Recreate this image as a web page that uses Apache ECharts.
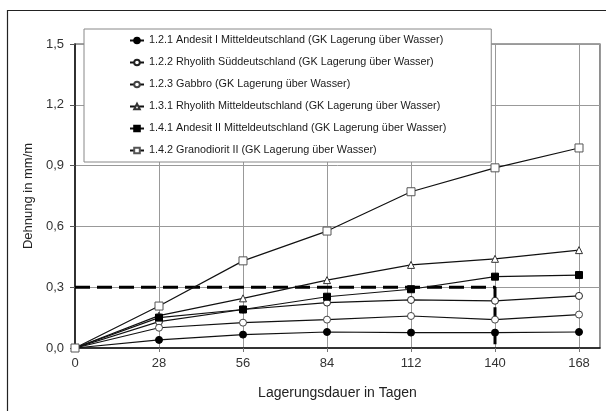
<!DOCTYPE html>
<html>
<head>
<meta charset="utf-8">
<script src="https://cdn.jsdelivr.net/npm/echarts@6/dist/echarts.min.js"></script>
<style>
  html, body { margin: 0; padding: 0; background: #fff; }
  #main { width: 606px; height: 411px; }
</style>
</head>
<body>
<div id="main"></div>
<script>
// Lagerungsdauer in Tagen
const days = [0, 28, 56, 84, 112, 140, 168];

// Dehnung in mm/m
const andesitI = [0, 0.04, 0.066, 0.079, 0.076, 0.076, 0.079];
const rhyolithSued = [0, 0.13, 0.19, 0.224, 0.237, 0.233, 0.257];
const gabbro = [0, 0.10, 0.125, 0.14, 0.158, 0.14, 0.165];
const rhyolithMittel = [0, 0.16, 0.245, 0.335, 0.41, 0.44, 0.483];
const andesitII = [0, 0.15, 0.19, 0.253, 0.29, 0.352, 0.36];
const granodiorit = [0, 0.207, 0.43, 0.577, 0.771, 0.889, 0.987];

// Grenzwert-Linie
const limitX = [0, 140, 140];
const limitY = [0.3, 0.3, 0];

const names = [
    '1.2.1 Andesit I Mitteldeutschland (GK Lagerung über Wasser)',
    '1.2.2 Rhyolith Süddeutschland (GK Lagerung über Wasser)',
    '1.2.3 Gabbro (GK Lagerung über Wasser)',
    '1.3.1 Rhyolith Mitteldeutschland (GK Lagerung über Wasser)',
    '1.4.1 Andesit II Mitteldeutschland (GK Lagerung über Wasser)',
    '1.4.2 Granodiorit II (GK Lagerung über Wasser)'
];

const pairs = (xs, ys) => xs.map((x, i) => [x, ys[i]]);

function lineSeries(name, values, symbol, size, fill, border) {
    return {
        name: name,
        type: 'line',
        data: pairs(days, values),
        symbol: symbol,
        symbolSize: size,
        lineStyle: { color: '#111', width: 1.2 },
        itemStyle: { color: fill, borderColor: border, borderWidth: 1 },
        z: 3
    };
}

const myChart = echarts.init(document.getElementById('main'), null, { renderer: 'canvas' });

const option = {
    animation: false,
    textStyle: { fontFamily: 'Liberation Sans, Arial, sans-serif' },
    graphic: [{
        type: 'rect',
        shape: { x: 7.5, y: 10.5, width: 620, height: 420 },
        style: { fill: null, stroke: '#222', lineWidth: 1.2 },
        silent: true
    }],
    grid: {
        left: 75, top: 44, right: 6, bottom: 63,
        show: true, borderColor: '#444', borderWidth: 1.2, backgroundColor: '#fff'
    },
    legend: {
        orient: 'vertical',
        left: 84, top: 29,
        data: names,
        backgroundColor: '#fff',
        borderColor: '#888',
        borderWidth: 1,
        padding: [6, 45, 6, 45],
        itemGap: 11,
        itemWidth: 14,
        itemHeight: 7,
        textStyle: { fontSize: 10.8, color: '#1a1a1a', fontFamily: 'Liberation Sans, Arial, sans-serif' }
    },
    xAxis: {
        type: 'value',
        min: 0, max: 175, interval: 28,
        name: 'Lagerungsdauer in Tagen',
        nameLocation: 'middle',
        nameGap: 38,
        nameTextStyle: { fontSize: 14, color: '#222' },
        axisLine: { lineStyle: { color: '#111', width: 1.5 } },
        axisTick: { show: true, length: 4, lineStyle: { color: '#777' } },
        axisLabel: {
            fontSize: 13, color: '#333', margin: 9, showMaxLabel: false,
            formatter: v => (v % 28 === 0 ? String(v) : '')
        },
        splitLine: { show: true, lineStyle: { color: '#999', width: 1 } }
    },
    yAxis: {
        type: 'value',
        min: 0, max: 1.5, interval: 0.3,
        name: 'Dehnung in mm/m',
        nameLocation: 'middle',
        nameGap: 40,
        nameTextStyle: { fontSize: 13, color: '#222' },
        axisLine: { show: true, lineStyle: { color: '#111', width: 1.5 } },
        axisTick: { show: true, length: 5, lineStyle: { color: '#555' } },
        axisLabel: {
            fontSize: 13, color: '#333', margin: 11,
            formatter: v => v.toFixed(1).replace('.', ',')
        },
        splitLine: { show: true, lineStyle: { color: '#999', width: 1 } }
    },
    series: [
        lineSeries(names[0], andesitI, 'circle', 7, '#000', '#000'),
        lineSeries(names[1], rhyolithSued, 'circle', 7, '#fff', '#222'),
        lineSeries(names[2], gabbro, 'circle', 7, '#fff', '#444'),
        lineSeries(names[3], rhyolithMittel, 'triangle', 7, '#fff', '#333'),
        lineSeries(names[4], andesitII, 'rect', 7, '#000', '#000'),
        lineSeries(names[5], granodiorit, 'rect', 8, '#fff', '#555'),
        {
            name: 'Grenzwert',
            type: 'line',
            data: pairs(limitX, limitY),
            symbol: 'none',
            lineStyle: { color: '#000', width: 3, type: [15, 7] },
            z: 2
        }
    ]
};

myChart.setOption(option);
</script>
</body>
</html>
